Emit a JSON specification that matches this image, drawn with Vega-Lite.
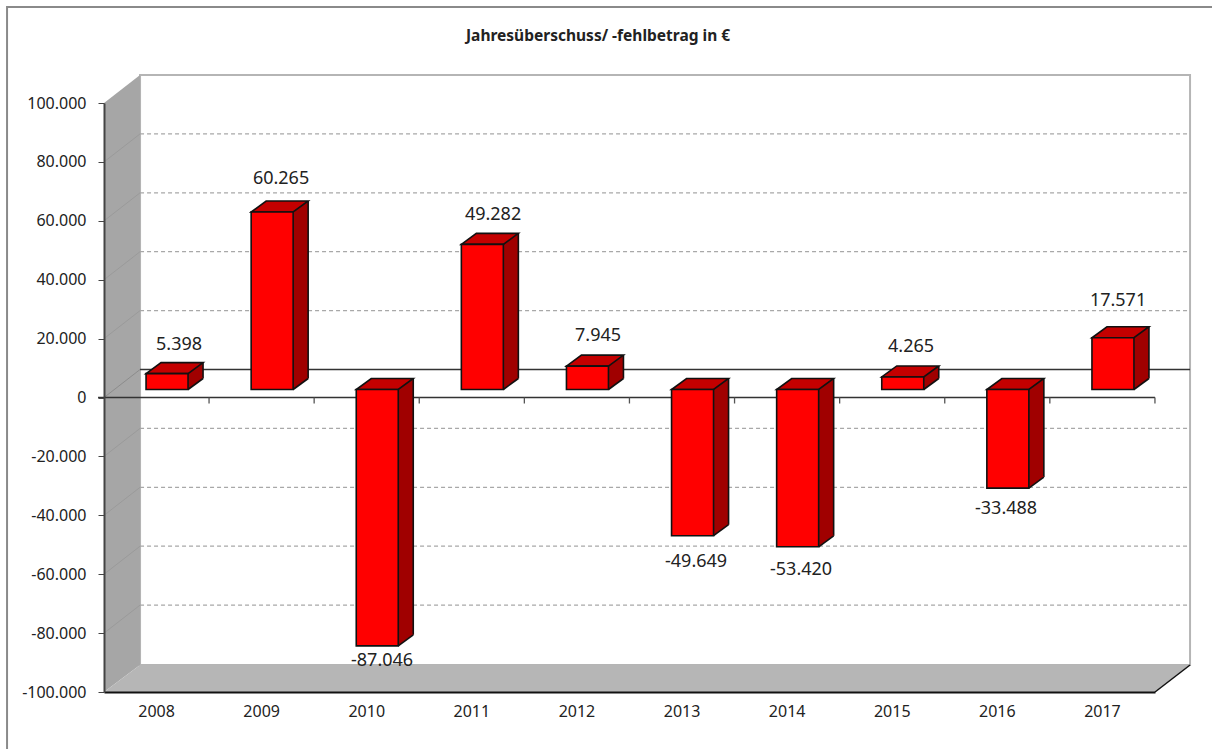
{
"$schema":"https://vega.github.io/schema/vega-lite/v6.json",
"width":1051,"height":589,
"autosize":"none",
"padding":{"left":104,"top":103,"right":57,"bottom":57},
"background":"white",
"config":{"view":{"stroke":null},"font":"Noto Sans"},
"datasets":{
"bars":[
{"year":"2008","value":5398,"label":"5.398"},
{"year":"2009","value":60265,"label":"60.265"},
{"year":"2010","value":-87046,"label":"-87.046"},
{"year":"2011","value":49282,"label":"49.282"},
{"year":"2012","value":7945,"label":"7.945"},
{"year":"2013","value":-49649,"label":"-49.649"},
{"year":"2014","value":-53420,"label":"-53.420"},
{"year":"2015","value":4265,"label":"4.265"},
{"year":"2016","value":-33488,"label":"-33.488"},
{"year":"2017","value":17571,"label":"17.571"}],
"grid":[{"value":80000},{"value":60000},{"value":40000},{"value":20000},{"value":-20000},{"value":-40000},{"value":-60000},{"value":-80000}],
"one":[{"value":0,"title":"Jahresüberschuss/ -fehlbetrag in €"}]
},
"data":{"name":"bars"},
"encoding":{
"x":{"field":"year","type":"nominal","title":null,"scale":{"domain":["2008","2009","2010","2011","2012","2013","2014","2015","2016","2017"],"paddingInner":0,"paddingOuter":0},"axis":{"labelAngle":0,"labelFont":"Noto Sans","labelFontSize":16,"labelColor":"#222","labelPadding":11,"ticks":false,"domainColor":"#111","domainWidth":2,"zindex":1}},
"y":{"field":"value","type":"quantitative","title":null,"scale":{"domain":[-100000,100000],"nice":false},"axis":{"values":[100000,80000,60000,40000,20000,0,-20000,-40000,-60000,-80000,-100000],"labelExpr":"(datum.value<0?'-':'')+replace(format(abs(datum.value),','),',','.')","labelFont":"Noto Sans","labelFontSize":16,"labelColor":"#222","labelPadding":12,"tickSize":6,"tickColor":"#444","domainColor":"#444","domainWidth":2,"grid":false,"zindex":1}}
},
"layer":[
{"data":{"name":"one"},"mark":{"type":"point","shape":"M-149.5,660 L-149.5,-96 L1100,-96","size":4,"filled":false,"stroke":"#8a8a8a","strokeWidth":2,"opacity":1},"encoding":{"x":{"datum":"2008"},"y":{"datum":100000}}},
{"data":{"name":"one"},"mark":{"type":"text","font":"Noto Sans","fontSize":15.5,"fontWeight":"bold","color":"#222","baseline":"middle","dx":441.5,"dy":-67},"encoding":{"x":{"datum":"2008"},"y":{"datum":100000},"text":{"field":"title"}}},
{"data":{"name":"one"},"mark":{"type":"point","shape":"M-16.5,-28 L1033.5,-28 L1033.5,562 L-16.5,562 Z","size":4,"filled":true,"fill":"white","stroke":"#b5b5b5","strokeWidth":2,"opacity":1},"encoding":{"x":{"datum":"2008"},"y":{"datum":100000}}},
{"data":{"name":"one"},"mark":{"type":"point","shape":"M-52.5,0 L-16.5,-28 L-16.5,562 L-52.5,589 Z","size":4,"filled":true,"fill":"#a6a6a6","strokeWidth":0,"opacity":1},"encoding":{"x":{"datum":"2008"},"y":{"datum":100000}}},
{"data":{"name":"one"},"mark":{"type":"point","shape":"M-52.5,589 L-16.5,562 L1033.5,562 L998.5,589 Z","size":4,"filled":true,"fill":"#b6b6b6","strokeWidth":0,"opacity":1},"encoding":{"x":{"datum":"2008"},"y":{"datum":100000}}},
{"data":{"name":"one"},"mark":{"type":"point","shape":"M998.5,589 L1033.5,562","size":4,"filled":false,"stroke":"#111","strokeWidth":1.5,"opacity":1},"encoding":{"x":{"datum":"2008"},"y":{"datum":100000}}},
{"data":{"name":"grid"},"mark":{"type":"point","shape":"M-16.5,-28 L1033.5,-28","size":4,"filled":false,"stroke":"#a8a8a8","strokeWidth":1.3,"strokeDash":[4,3],"opacity":1},"encoding":{"x":{"datum":"2008"}}},
{"data":{"name":"grid"},"mark":{"type":"point","shape":"M-52.5,0 L-16.5,-28","size":4,"filled":false,"stroke":"#9a9a9a","strokeWidth":1,"opacity":1},"encoding":{"x":{"datum":"2008"}}},
{"data":{"name":"one"},"mark":{"type":"point","shape":"M-52.5,0 L-16.5,-28","size":4,"filled":false,"stroke":"#8c8c8c","strokeWidth":1,"opacity":1},"encoding":{"x":{"datum":"2008"},"y":{"datum":0}}},
{"data":{"name":"one"},"mark":{"type":"point","shape":"M-58.5,0 L998.5,0 M-16.5,-28 L1033.5,-28","size":4,"filled":false,"stroke":"#333","strokeWidth":1.6,"opacity":1},"encoding":{"x":{"datum":"2008"},"y":{"datum":0}}},
{"mark":{"type":"point","shape":"M52.5,0 L52.5,6","size":4,"filled":false,"stroke":"#555","strokeWidth":1.3,"opacity":1},"encoding":{"y":{"datum":0}}},
{"mark":{"type":"bar","width":42,"xOffset":25.5,"yOffset":-19,"y2Offset":-19,"fill":"#a00000","strokeWidth":0},"encoding":{"y2":{"datum":0}}},
{"mark":{"type":"bar","width":1.6,"xOffset":46.5,"yOffset":-19,"y2Offset":-19,"fill":"#111","strokeWidth":0},"encoding":{"y2":{"datum":0}}},
{"transform":[{"filter":"datum.value>=0"}],"mark":{"type":"point","shape":"M31.5,-20 L31.5,-8 L46.5,-19 L46.5,-20","size":4,"filled":true,"fill":"#a00000","strokeWidth":0,"opacity":1},"encoding":{"y":{"datum":0}}},
{"transform":[{"filter":"datum.value<0"}],"mark":{"type":"point","shape":"M31.5,-20 L31.5,-8 L46.5,-19 L46.5,-20","size":4,"filled":true,"fill":"#a00000","strokeWidth":0,"opacity":1}},
{"transform":[{"filter":"datum.value>=0"}],"mark":{"type":"point","shape":"M31.5,-8 L46.5,-19","size":4,"filled":false,"stroke":"#111","strokeWidth":1.6,"opacity":1},"encoding":{"y":{"datum":0}}},
{"transform":[{"filter":"datum.value<0"}],"mark":{"type":"point","shape":"M31.5,-8 L46.5,-19","size":4,"filled":false,"stroke":"#111","strokeWidth":1.6,"opacity":1}},
{"transform":[{"filter":"datum.value>=0"}],"mark":{"type":"point","shape":"M-10.5,-8 L31.5,-8 L46.5,-19 L4.5,-19 Z","size":4,"filled":true,"fill":"#c40000","stroke":"#111","strokeWidth":1.6,"opacity":1}},
{"transform":[{"filter":"datum.value<0"}],"mark":{"type":"point","shape":"M-10.5,-8 L31.5,-8 L46.5,-19 L4.5,-19 Z","size":4,"filled":true,"fill":"#c40000","stroke":"#111","strokeWidth":1.6,"opacity":1},"encoding":{"y":{"datum":0}}},
{"mark":{"type":"bar","width":42,"xOffset":10.5,"yOffset":-8,"y2Offset":-8,"fill":"#ff0000","stroke":"#111","strokeWidth":1.6},"encoding":{"y2":{"datum":0}}},
{"mark":{"type":"text","font":"Noto Sans","fontSize":18,"color":"#222","baseline":"middle",
"dx":{"expr":"{'2008':22.5,'2009':19.4,'2010':15.3,'2011':21.2,'2012':21.1,'2013':14,'2014':13.9,'2015':18.8,'2016':8.7,'2017':15.6}[datum.year]"},
"dy":{"expr":"{'2008':-37,'2009':-41.5,'2010':7.6,'2011':-37,'2012':-38.6,'2013':18,'2014':15,'2015':-38,'2016':12.4,'2017':-45}[datum.year]"}},
"encoding":{"text":{"field":"label"}}}
]
}
